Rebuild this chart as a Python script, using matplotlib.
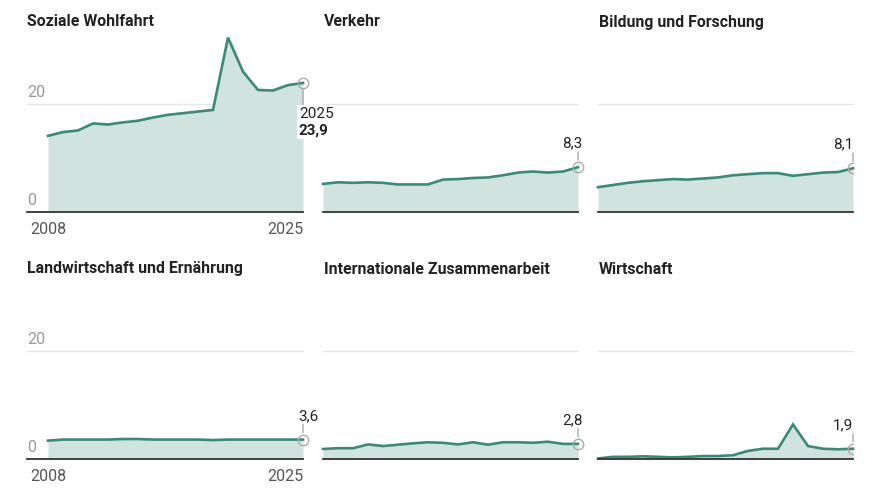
import matplotlib.pyplot as plt

plt.rcParams['font.family'] = ['Roboto', 'DejaVu Sans']

# --- Data (Anteil in %, 2008-2025) ---
years = list(range(2008, 2026))

titles = ['Soziale Wohlfahrt', 'Verkehr', 'Bildung und Forschung',
          'Landwirtschaft und Ernährung', 'Internationale Zusammenarbeit', 'Wirtschaft']

soziales = [14.1, 14.8, 15.1, 16.4, 16.2, 16.6, 16.9, 17.5, 18.0, 18.3, 18.6, 18.9,
            32.3, 26.0, 22.6, 22.5, 23.5, 23.9]
verkehr = [5.2, 5.5, 5.4, 5.5, 5.4, 5.1, 5.1, 5.1, 6.0, 6.1, 6.3, 6.4,
           6.8, 7.3, 7.5, 7.3, 7.5, 8.3]
bildung = [4.6, 5.0, 5.4, 5.7, 5.9, 6.1, 6.0, 6.2, 6.4, 6.8, 7.0, 7.2,
           7.2, 6.7, 7.0, 7.3, 7.4, 8.1]
landwirtschaft = [3.4, 3.6, 3.6, 3.6, 3.6, 3.7, 3.7, 3.6, 3.6, 3.6, 3.6, 3.5,
                  3.6, 3.6, 3.6, 3.6, 3.6, 3.6]
international = [1.85, 2.0, 2.0, 2.7, 2.4, 2.65, 2.9, 3.1, 3.0, 2.7, 3.1, 2.65,
                 3.1, 3.1, 3.0, 3.2, 2.8, 2.8]
wirtschaft = [0.1, 0.4, 0.4, 0.5, 0.4, 0.3, 0.4, 0.55, 0.55, 0.7, 1.5, 1.9,
              1.9, 6.4, 2.4, 1.9, 1.8, 1.9]

series = [soziales, verkehr, bildung, landwirtschaft, international, wirtschaft]
end_labels = ['23,9', '8,3', '8,1', '3,6', '2,8', '1,9']

LINE = '#3a8a78'
FILL = '#d0e3df'
GRID = '#e6e6e6'
TXT = '#222222'
MUTED = '#999999'

W, H = 873, 496
fig = plt.figure(figsize=(W / 100, H / 100), dpi=100)

col_left = [48, 323, 598]
col_w = 255
row_base = [212, 459]
ymax = 33
px_per_unit = 5.4
ax_h = ymax * px_per_unit
ext = (27 - 48) / col_w  # left extension of col 1 grid lines

for i, (vals, title) in enumerate(zip(series, titles)):
    r, c = divmod(i, 3)
    left = col_left[c] / W
    bottom = (H - row_base[r]) / H
    ax = fig.add_axes([left, bottom, col_w / W, ax_h / H])
    ax.set_xlim(2008, 2025)
    ax.set_ylim(0, ymax)
    ax.axis('off')

    x0 = ext if c == 0 else 0
    ax.axhline(20, xmin=x0, xmax=1, color=GRID, lw=1, zorder=0, clip_on=False)
    ax.fill_between(years, vals, 0, color=FILL, lw=0, zorder=1)
    ax.plot(years, vals, color=LINE, lw=1.9, zorder=3, solid_joinstyle='miter',
            clip_on=False)
    ax.axhline(0, xmin=x0, xmax=1, color='#333333', lw=1.3, zorder=4, clip_on=False)

    # end marker
    ax.plot(years[-1], vals[-1], 'o', ms=7.5, mfc='none', mec='#aaaaaa', mew=1,
            zorder=5, clip_on=(c == 2))

    # titles
    tx = 27 if c == 0 else col_left[c] + 1
    ty = 22 if r == 0 else 269
    fig.text(tx / W, 1 - ty / H, title, fontsize=11.4, fontweight='bold',
             color=TXT, ha='left', va='center')

    if c == 0:
        for yv, lab in [(20, '20'), (0, '0')]:
            ax.annotate(lab, xy=(ext, yv), xycoords=('axes fraction', 'data'),
                        xytext=(0, 3), textcoords='offset points',
                        ha='left', va='bottom', fontsize=11.5, color=MUTED)
        ax.annotate('2008', xy=(2008, 0), xytext=(0, -7), textcoords='offset points',
                    ha='center', va='top', fontsize=11.5, color='#555555')
        ax.annotate('2025', xy=(2025, 0), xytext=(0, -7), textcoords='offset points',
                    ha='right', va='top', fontsize=11.5, color='#555555')

    if i == 0:
        ax.annotate('', xy=(years[-1], vals[-1]), xytext=(0, -16),
                    textcoords='offset points',
                    arrowprops=dict(arrowstyle='-', color='#aaaaaa', lw=1,
                                    shrinkA=0, shrinkB=5))
        bb = dict(boxstyle='square,pad=0.1', fc='white', ec='none')
        ax.annotate('2025', xy=(years[-1], vals[-1]), xytext=(-3, -17),
                    textcoords='offset points', ha='left', va='top',
                    fontsize=11, color=TXT, bbox=bb, zorder=6)
        ax.annotate(end_labels[i], xy=(years[-1], vals[-1]), xytext=(-3, -29),
                    textcoords='offset points', ha='left', va='top',
                    fontsize=11, fontweight='bold', color=TXT, bbox=bb, zorder=6)
    else:
        ax.annotate('', xy=(years[-1], vals[-1]), xytext=(0, 11),
                    textcoords='offset points',
                    arrowprops=dict(arrowstyle='-', color='#aaaaaa', lw=1,
                                    shrinkA=0, shrinkB=5))
        if c == 2:
            dx, ha = 0, 'right'
        elif i == 3:
            dx, ha = 4, 'center'
        else:
            dx, ha = -4, 'center'
        ax.annotate(end_labels[i], xy=(years[-1], vals[-1]), xytext=(dx, 12),
                    textcoords='offset points', ha=ha, va='bottom',
                    fontsize=11, color=TXT)

fig.savefig('out.png', dpi=100)
